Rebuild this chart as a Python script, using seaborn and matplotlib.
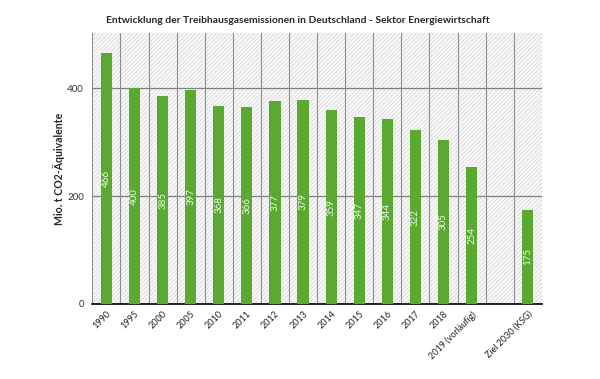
import matplotlib
matplotlib.use('Agg')
import matplotlib.pyplot as plt
import matplotlib.patches as mpatches
import numpy as np
import pandas as pd
import seaborn as sns

categories = ['1990', '1995', '2000', '2005', '2010', '2011', '2012', '2013', '2014',
              '2015', '2016', '2017', '2018', '2019 (vorläufig)', ' ', 'Ziel 2030 (KSG)']
values = [466, 400, 385, 397, 368, 366, 377, 379, 359,
          347, 344, 322, 305, 254, np.nan, 175]

sns.set_style('white')
plt.rcParams['font.family'] = ['Lato', 'DejaVu Sans']
plt.rcParams['hatch.linewidth'] = 0.5

df = pd.DataFrame({'Jahr': categories, 'Wert': values})

fig = plt.figure(figsize=(6, 3.79), dpi=100)
ax = fig.add_axes([0.154, 0.198, 0.749, 0.714])

# hatched background
ax.add_patch(mpatches.Rectangle((0, 0), 1, 1, transform=ax.transAxes, facecolor='#f9f9f9',
                                edgecolor='#d2d2d2', linewidth=0, hatch='////////', zorder=0))

sns.barplot(data=df, x='Jahr', y='Wert', order=categories, color='#5aaa32',
            saturation=1, width=0.4, linewidth=0, ax=ax, zorder=3)

ax.set_ylim(0, 502)
ax.set_xlim(-0.5, len(categories) - 0.5)

# value labels inside the bars
for i, v in enumerate(values):
    if not np.isnan(v):
        ax.text(i, v / 2, f'{int(v)}', rotation=90, ha='center', va='center',
                color='#eef8e4', fontsize=7, zorder=4)

# grid
ax.set_yticks([0, 200, 400])
ax.yaxis.grid(True, color='#7f7f7f', linewidth=0.9, zorder=1)
bounds = np.arange(-0.5, len(categories), 1)
for b in bounds:
    ax.axvline(b, color='#8c8c98', linewidth=0.8, zorder=1)
ax.set_axisbelow(True)

ax.set_xticks(range(len(categories)))
ax.set_xticklabels(categories, rotation=45, ha='right', rotation_mode='anchor', fontsize=6.5,
                   color='#222222')
ax.tick_params(axis='x', length=0, pad=4)
ax.set_xticks(bounds, minor=True)
ax.tick_params(axis='x', which='minor', length=4, width=1, color='black', direction='out')
ax.tick_params(axis='y', length=0, labelsize=7, pad=6, labelcolor='#333333')

for s in ['top', 'right', 'left']:
    ax.spines[s].set_visible(False)
ax.spines['bottom'].set_color('black')
ax.spines['bottom'].set_linewidth(1.2)

ax.set_xlabel('')
ax.set_ylabel('Mio. t CO2-Äquivalente', fontsize=7.6, fontweight='bold')
ax.yaxis.set_label_coords(-0.062, 0.5)
fig.text(0.497, 0.945,
         'Entwicklung der Treibhausgasemissionen in Deutschland - Sektor Energiewirtschaft',
         ha='center', va='center', fontsize=7.4, fontweight='bold')

fig.savefig('out.png', dpi=100)
